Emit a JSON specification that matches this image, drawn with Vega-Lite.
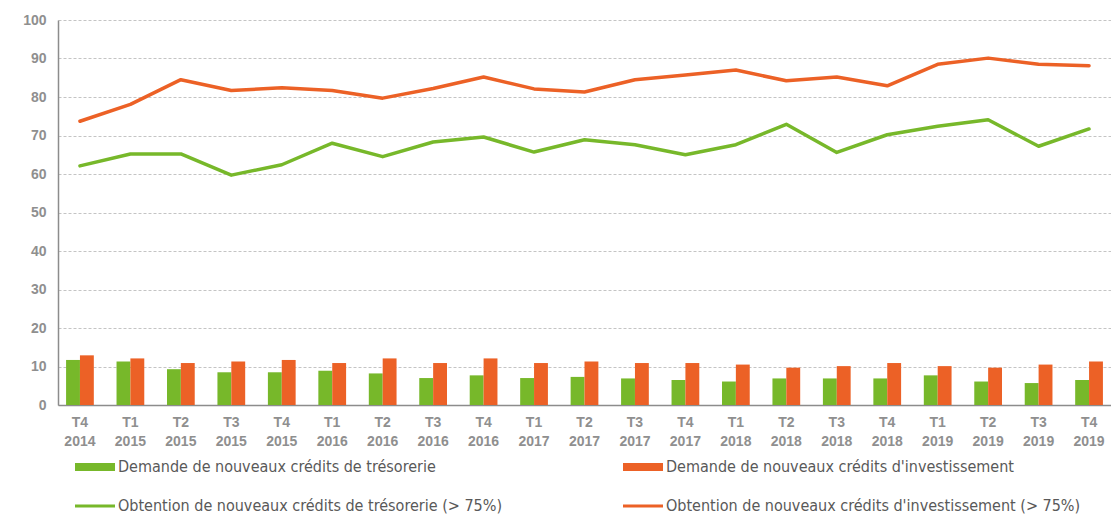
{
  "$schema": "https://vega.github.io/schema/vega-lite/v6.json",
  "autosize": {"type": "none"},
  "width": 1053,
  "height": 385,
  "padding": {"left": 58, "top": 20, "right": 0, "bottom": 109},
  "background": "white",
  "config": {
    "view": {"stroke": null},
    "font": "Liberation Sans",
    "axis": {"labelFont": "Liberation Sans", "labelColor": "#8f8f8f"}
  },
  "data": {
    "values": [
      {"period": "T4 2014", "series": "Demande de nouveaux crédits de trésorerie", "value": 11.7},
      {"period": "T1 2015", "series": "Demande de nouveaux crédits de trésorerie", "value": 11.3},
      {"period": "T2 2015", "series": "Demande de nouveaux crédits de trésorerie", "value": 9.3},
      {"period": "T3 2015", "series": "Demande de nouveaux crédits de trésorerie", "value": 8.5},
      {"period": "T4 2015", "series": "Demande de nouveaux crédits de trésorerie", "value": 8.5},
      {"period": "T1 2016", "series": "Demande de nouveaux crédits de trésorerie", "value": 8.9},
      {"period": "T2 2016", "series": "Demande de nouveaux crédits de trésorerie", "value": 8.2},
      {"period": "T3 2016", "series": "Demande de nouveaux crédits de trésorerie", "value": 7.0},
      {"period": "T4 2016", "series": "Demande de nouveaux crédits de trésorerie", "value": 7.7},
      {"period": "T1 2017", "series": "Demande de nouveaux crédits de trésorerie", "value": 7.0},
      {"period": "T2 2017", "series": "Demande de nouveaux crédits de trésorerie", "value": 7.3},
      {"period": "T3 2017", "series": "Demande de nouveaux crédits de trésorerie", "value": 6.9},
      {"period": "T4 2017", "series": "Demande de nouveaux crédits de trésorerie", "value": 6.5},
      {"period": "T1 2018", "series": "Demande de nouveaux crédits de trésorerie", "value": 6.1},
      {"period": "T2 2018", "series": "Demande de nouveaux crédits de trésorerie", "value": 6.9},
      {"period": "T3 2018", "series": "Demande de nouveaux crédits de trésorerie", "value": 6.9},
      {"period": "T4 2018", "series": "Demande de nouveaux crédits de trésorerie", "value": 6.9},
      {"period": "T1 2019", "series": "Demande de nouveaux crédits de trésorerie", "value": 7.7},
      {"period": "T2 2019", "series": "Demande de nouveaux crédits de trésorerie", "value": 6.1},
      {"period": "T3 2019", "series": "Demande de nouveaux crédits de trésorerie", "value": 5.7},
      {"period": "T4 2019", "series": "Demande de nouveaux crédits de trésorerie", "value": 6.5},
      {"period": "T4 2014", "series": "Demande de nouveaux crédits d'investissement", "value": 12.9},
      {"period": "T1 2015", "series": "Demande de nouveaux crédits d'investissement", "value": 12.1},
      {"period": "T2 2015", "series": "Demande de nouveaux crédits d'investissement", "value": 10.9},
      {"period": "T3 2015", "series": "Demande de nouveaux crédits d'investissement", "value": 11.3},
      {"period": "T4 2015", "series": "Demande de nouveaux crédits d'investissement", "value": 11.7},
      {"period": "T1 2016", "series": "Demande de nouveaux crédits d'investissement", "value": 10.9},
      {"period": "T2 2016", "series": "Demande de nouveaux crédits d'investissement", "value": 12.1},
      {"period": "T3 2016", "series": "Demande de nouveaux crédits d'investissement", "value": 10.9},
      {"period": "T4 2016", "series": "Demande de nouveaux crédits d'investissement", "value": 12.1},
      {"period": "T1 2017", "series": "Demande de nouveaux crédits d'investissement", "value": 10.9},
      {"period": "T2 2017", "series": "Demande de nouveaux crédits d'investissement", "value": 11.3},
      {"period": "T3 2017", "series": "Demande de nouveaux crédits d'investissement", "value": 10.9},
      {"period": "T4 2017", "series": "Demande de nouveaux crédits d'investissement", "value": 10.9},
      {"period": "T1 2018", "series": "Demande de nouveaux crédits d'investissement", "value": 10.5},
      {"period": "T2 2018", "series": "Demande de nouveaux crédits d'investissement", "value": 9.7},
      {"period": "T3 2018", "series": "Demande de nouveaux crédits d'investissement", "value": 10.1},
      {"period": "T4 2018", "series": "Demande de nouveaux crédits d'investissement", "value": 10.9},
      {"period": "T1 2019", "series": "Demande de nouveaux crédits d'investissement", "value": 10.1},
      {"period": "T2 2019", "series": "Demande de nouveaux crédits d'investissement", "value": 9.7},
      {"period": "T3 2019", "series": "Demande de nouveaux crédits d'investissement", "value": 10.5},
      {"period": "T4 2019", "series": "Demande de nouveaux crédits d'investissement", "value": 11.3},
      {"period": "T4 2014", "series": "Obtention de nouveaux crédits de trésorerie (> 75%)", "value": 62.1},
      {"period": "T1 2015", "series": "Obtention de nouveaux crédits de trésorerie (> 75%)", "value": 65.2},
      {"period": "T2 2015", "series": "Obtention de nouveaux crédits de trésorerie (> 75%)", "value": 65.2},
      {"period": "T3 2015", "series": "Obtention de nouveaux crédits de trésorerie (> 75%)", "value": 59.7},
      {"period": "T4 2015", "series": "Obtention de nouveaux crédits de trésorerie (> 75%)", "value": 62.4},
      {"period": "T1 2016", "series": "Obtention de nouveaux crédits de trésorerie (> 75%)", "value": 68.0},
      {"period": "T2 2016", "series": "Obtention de nouveaux crédits de trésorerie (> 75%)", "value": 64.5},
      {"period": "T3 2016", "series": "Obtention de nouveaux crédits de trésorerie (> 75%)", "value": 68.3},
      {"period": "T4 2016", "series": "Obtention de nouveaux crédits de trésorerie (> 75%)", "value": 69.6},
      {"period": "T1 2017", "series": "Obtention de nouveaux crédits de trésorerie (> 75%)", "value": 65.7},
      {"period": "T2 2017", "series": "Obtention de nouveaux crédits de trésorerie (> 75%)", "value": 68.9},
      {"period": "T3 2017", "series": "Obtention de nouveaux crédits de trésorerie (> 75%)", "value": 67.6},
      {"period": "T4 2017", "series": "Obtention de nouveaux crédits de trésorerie (> 75%)", "value": 65.0},
      {"period": "T1 2018", "series": "Obtention de nouveaux crédits de trésorerie (> 75%)", "value": 67.6},
      {"period": "T2 2018", "series": "Obtention de nouveaux crédits de trésorerie (> 75%)", "value": 72.9},
      {"period": "T3 2018", "series": "Obtention de nouveaux crédits de trésorerie (> 75%)", "value": 65.6},
      {"period": "T4 2018", "series": "Obtention de nouveaux crédits de trésorerie (> 75%)", "value": 70.2},
      {"period": "T1 2019", "series": "Obtention de nouveaux crédits de trésorerie (> 75%)", "value": 72.4},
      {"period": "T2 2019", "series": "Obtention de nouveaux crédits de trésorerie (> 75%)", "value": 74.1},
      {"period": "T3 2019", "series": "Obtention de nouveaux crédits de trésorerie (> 75%)", "value": 67.2},
      {"period": "T4 2019", "series": "Obtention de nouveaux crédits de trésorerie (> 75%)", "value": 71.7},
      {"period": "T4 2014", "series": "Obtention de nouveaux crédits d'investissement (> 75%)", "value": 73.7},
      {"period": "T1 2015", "series": "Obtention de nouveaux crédits d'investissement (> 75%)", "value": 78.1},
      {"period": "T2 2015", "series": "Obtention de nouveaux crédits d'investissement (> 75%)", "value": 84.5},
      {"period": "T3 2015", "series": "Obtention de nouveaux crédits d'investissement (> 75%)", "value": 81.7},
      {"period": "T4 2015", "series": "Obtention de nouveaux crédits d'investissement (> 75%)", "value": 82.4},
      {"period": "T1 2016", "series": "Obtention de nouveaux crédits d'investissement (> 75%)", "value": 81.7},
      {"period": "T2 2016", "series": "Obtention de nouveaux crédits d'investissement (> 75%)", "value": 79.7},
      {"period": "T3 2016", "series": "Obtention de nouveaux crédits d'investissement (> 75%)", "value": 82.2},
      {"period": "T4 2016", "series": "Obtention de nouveaux crédits d'investissement (> 75%)", "value": 85.2},
      {"period": "T1 2017", "series": "Obtention de nouveaux crédits d'investissement (> 75%)", "value": 82.1},
      {"period": "T2 2017", "series": "Obtention de nouveaux crédits d'investissement (> 75%)", "value": 81.3},
      {"period": "T3 2017", "series": "Obtention de nouveaux crédits d'investissement (> 75%)", "value": 84.5},
      {"period": "T4 2017", "series": "Obtention de nouveaux crédits d'investissement (> 75%)", "value": 85.7},
      {"period": "T1 2018", "series": "Obtention de nouveaux crédits d'investissement (> 75%)", "value": 87.0},
      {"period": "T2 2018", "series": "Obtention de nouveaux crédits d'investissement (> 75%)", "value": 84.2},
      {"period": "T3 2018", "series": "Obtention de nouveaux crédits d'investissement (> 75%)", "value": 85.2},
      {"period": "T4 2018", "series": "Obtention de nouveaux crédits d'investissement (> 75%)", "value": 82.9},
      {"period": "T1 2019", "series": "Obtention de nouveaux crédits d'investissement (> 75%)", "value": 88.5},
      {"period": "T2 2019", "series": "Obtention de nouveaux crédits d'investissement (> 75%)", "value": 90.1},
      {"period": "T3 2019", "series": "Obtention de nouveaux crédits d'investissement (> 75%)", "value": 88.5},
      {"period": "T4 2019", "series": "Obtention de nouveaux crédits d'investissement (> 75%)", "value": 88.1}
    ]
  },
  "encoding": {
    "x": {
      "field": "period",
      "type": "nominal",
      "sort": null,
      "scale": {"paddingInner": 0.45, "paddingOuter": 0.16},
      "axis": {
        "title": null,
        "labelAngle": 0,
        "labelExpr": "split(datum.label, ' ')",
        "labelFontSize": 14,
        "labelFontWeight": "bold",
        "labelLineHeight": 19,
        "labelPadding": 10,
        "ticks": false,
        "domainColor": "#8c8c8c",
        "domainWidth": 1.5,
        "grid": false
      }
    },
    "y": {
      "field": "value",
      "type": "quantitative",
      "scale": {"domain": [0, 100], "nice": false},
      "axis": {
        "title": null,
        "values": [0, 10, 20, 30, 40, 50, 60, 70, 80, 90, 100],
        "labelFontSize": 14,
        "labelFontWeight": "bold",
        "labelPadding": 12,
        "ticks": false,
        "domainColor": "#8c8c8c",
        "domainWidth": 1.5,
        "gridColor": "#c4c4c4",
        "gridDash": [3, 2],
        "gridWidth": 1
      }
    },
    "color": {
      "field": "series",
      "type": "nominal",
      "scale": {
        "domain": [
          "Demande de nouveaux crédits de trésorerie",
          "Demande de nouveaux crédits d'investissement",
          "Obtention de nouveaux crédits de trésorerie (> 75%)",
          "Obtention de nouveaux crédits d'investissement (> 75%)"
        ],
        "range": ["#77b82a", "#ec6126", "#77b82a", "#ec6126"]
      },
      "legend": {
        "title": null,
        "orient": "none",
        "direction": "horizontal",
        "legendX": 17,
        "legendY": 427,
        "columns": 2,
        "columnPadding": 120,
        "rowPadding": 11,
        "symbolSize": 1600,
        "labelOffset": 3,
        "labelFont": "Liberation Sans Narrow, DejaVu Sans Condensed, Arial Narrow, sans-serif",
        "labelFontSize": 16,
        "labelColor": "#595959",
        "labelLimit": 600,
        "encode": {
          "symbols": {
            "update": {
              "shape": {"signal": "indexof(datum.value, 'Obtention') >= 0 ? 'M-1,-0.08H1V0.08H-1Z' : 'M-1,-0.2H1V0.2H-1Z'"},
              "fill": {"signal": "indexof(datum.value, 'trésorerie') >= 0 ? '#77b82a' : '#ec6126'"},
              "strokeWidth": {"value": 0},
              "opacity": {"value": 1},
              "fillOpacity": {"value": 1}
            }
          }
        }
      }
    }
  },
  "layer": [
    {
      "transform": [{"filter": "indexof(datum.series, 'Demande') === 0"}],
      "mark": {"type": "bar"},
      "encoding": {
        "xOffset": {"field": "series", "type": "nominal", "sort": ["Demande de nouveaux crédits de trésorerie", "Demande de nouveaux crédits d'investissement"], "scale": {"paddingInner": 0}}
      }
    },
    {
      "transform": [{"filter": "indexof(datum.series, 'Obtention') === 0"}],
      "mark": {"type": "line", "strokeWidth": 3.5, "strokeJoin": "round", "strokeCap": "round"},
      "encoding": {}
    }
  ]
}
